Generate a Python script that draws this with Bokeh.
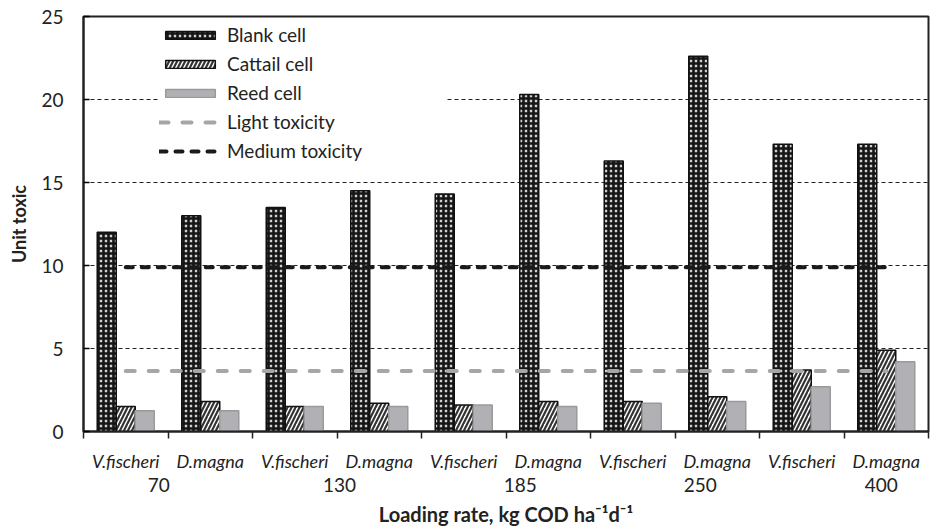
from bokeh.plotting import figure
from bokeh.models import (Range1d, LinearAxis, FixedTicker, Legend, LegendItem, ColumnDataSource)
from bokeh.transform import dodge
from bokeh.embed import file_html
from bokeh.resources import INLINE

# ---- data ----
loading_rates = ["70", "130", "185", "250", "400"]
species = ["V.fischeri", "D.magna", "V.fischeri", "D.magna", "V.fischeri",
           "D.magna", "V.fischeri", "D.magna", "V.fischeri", "D.magna"]
blank_cell = [12.0, 13.0, 13.5, 14.5, 14.3, 20.3, 16.3, 22.6, 17.3, 17.3]
cattail_cell = [1.5, 1.8, 1.5, 1.7, 1.6, 1.8, 1.8, 2.1, 3.7, 4.9]
reed_cell = [1.25, 1.25, 1.5, 1.5, 1.6, 1.5, 1.7, 1.8, 2.7, 4.2]
light_toxicity = [3.65] * 10
medium_toxicity = [9.9] * 10
y_ticks = [0, 5, 10, 15, 20, 25]

# ---- layout helpers ----
n = len(species)
centers = [i + 0.5 for i in range(n)]              # category slots on the x scale
group_label_pos = [0.89, 3.03, 5.17, 7.30, 9.44]   # where the loading-rate labels sit in the original
src = ColumnDataSource(dict(x=centers, blank=blank_cell, cattail=cattail_cell, reed=reed_cell,
                            light=light_toxicity, medium=medium_toxicity))

FONT = "Lato"
TXT = "#222222"

p = figure(width=930, height=529, x_range=Range1d(0, n), y_range=Range1d(0, 25),
           output_backend="svg", toolbar_location=None, x_axis_location=None,
           min_border_left=83, min_border_top=16, min_border_right=2, min_border_bottom=98)

p.outline_line_color = "#222222"
p.outline_line_width = 2
p.xgrid.visible = False
p.ygrid.grid_line_color = "#222222"
p.ygrid.grid_line_dash = "4 3"
p.ygrid.grid_line_width = 1

# y axis
p.yaxis.ticker = FixedTicker(ticks=y_ticks)
p.yaxis.major_tick_in = 6
p.yaxis.major_tick_out = 0
p.yaxis.minor_tick_line_color = None
p.yaxis.axis_line_width = 2
p.yaxis.axis_line_color = "#222222"
p.yaxis.major_tick_line_width = 1.5
p.yaxis.major_label_text_font = FONT
p.yaxis.major_label_text_font_size = "19px"
p.yaxis.major_label_text_color = TXT
p.yaxis.major_label_standoff = 20
p.yaxis.axis_label = "Unit toxic"
p.yaxis.axis_label_text_font = FONT
p.yaxis.axis_label_text_font_size = "18px"
p.yaxis.axis_label_text_font_style = "bold"
p.yaxis.axis_label_text_color = TXT
p.yaxis.axis_label_standoff = 8

# x axis: ticks at category boundaries
bounds = list(range(n + 1))
tick_axis = LinearAxis(ticker=FixedTicker(ticks=bounds),
                       major_label_overrides={b: "" for b in bounds},
                       major_tick_out=7, major_tick_in=0, minor_tick_line_color=None,
                       major_label_text_font_size="1px", major_label_standoff=0,
                       axis_line_width=2, axis_line_color="#222222",
                       major_tick_line_width=1.5, major_tick_line_color="#222222")
p.add_layout(tick_axis, "below")

# species labels
sp_axis = LinearAxis(ticker=FixedTicker(ticks=centers),
                     major_label_overrides={c: s for c, s in zip(centers, species)},
                     major_tick_line_color=None, major_tick_out=0, major_tick_in=0,
                     minor_tick_line_color=None, axis_line_color=None,
                     major_label_standoff=11,
                     major_label_text_font=FONT, major_label_text_font_style="italic",
                     major_label_text_font_size="18px", major_label_text_color=TXT)
p.add_layout(sp_axis, "below")

# loading rate labels
gr_axis = LinearAxis(ticker=FixedTicker(ticks=group_label_pos),
                     major_label_overrides={g: l for g, l in zip(group_label_pos, loading_rates)},
                     major_tick_line_color=None, major_tick_out=0, major_tick_in=0,
                     minor_tick_line_color=None, axis_line_color=None,
                     major_label_standoff=3,
                     major_label_text_font=FONT, major_label_text_font_size="19px",
                     major_label_text_color=TXT,
                     axis_label="Loading rate, kg COD ha\u207b\u00b9d\u207b\u00b9",
                     axis_label_standoff=7,
                     axis_label_text_font=FONT, axis_label_text_font_size="20px",
                     axis_label_text_font_style="bold", axis_label_text_color=TXT)
p.add_layout(gr_axis, "below")

bw = 0.225
rb = p.vbar(x=dodge("x", -bw), top="blank", width=bw, source=src,
            fill_color="#d0d0d0", hatch_pattern="+", hatch_color="#151515",
            hatch_weight=2.6, hatch_scale=5, line_color="#111111", line_width=1.5)
rc = p.vbar(x="x", top="cattail", width=bw, source=src,
            fill_color="white", hatch_pattern="/", hatch_color="#333333",
            hatch_weight=2.2, hatch_scale=8, line_color="#111111", line_width=1.5)
rr = p.vbar(x=dodge("x", bw), top="reed", width=bw, source=src,
            fill_color="#b1b1b5", line_color="#9a9a9a", line_width=1.5)
rl = p.line(x="x", y="light", source=src, line_color="#a6a6a6", line_width=4,
            line_dash="9 14", line_cap="round")
rm = p.line(x="x", y="medium", source=src, line_color="#1a1a1a", line_width=4,
            line_dash="7 9", line_cap="round")

legend = Legend(items=[LegendItem(label="Blank cell", renderers=[rb]),
                       LegendItem(label="Cattail cell", renderers=[rc]),
                       LegendItem(label="Reed cell", renderers=[rr]),
                       LegendItem(label="Light toxicity", renderers=[rl]),
                       LegendItem(label="Medium toxicity", renderers=[rm])],
                location=(76, 269), padding=4, margin=0, spacing=6,
                glyph_width=62, glyph_height=10, label_height=18, label_width=220,
                label_standoff=6, label_text_font=FONT, label_text_font_size="19px",
                label_text_color=TXT, border_line_color=None,
                background_fill_color="white", background_fill_alpha=1.0)
p.add_layout(legend)

open("out.html", "w").write(file_html(p, INLINE))
